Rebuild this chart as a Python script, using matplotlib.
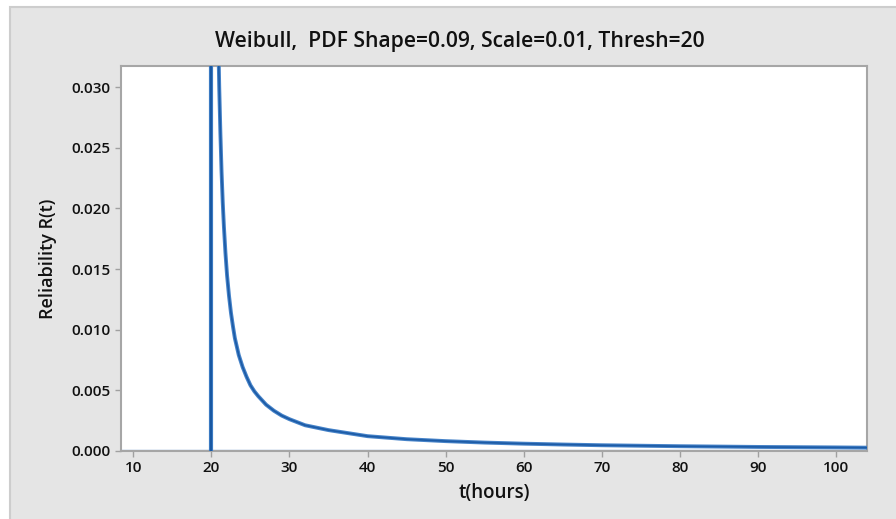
import matplotlib
matplotlib.use('Agg')
from matplotlib import pyplot as plt
from matplotlib.patches import Rectangle

plt.rcParams['font.family'] = ['Open Sans', 'DejaVu Sans']

# data
thresh = 20
t_hours = [20.85, 21.0, 21.15, 21.3, 21.45, 21.6, 21.8, 22.0, 22.25, 22.5,
           22.75, 23.0, 23.5, 24.0, 24.5, 25.0, 25.5, 26.0, 27.0, 28.0,
           29.0, 30.0, 32.0, 35.0, 38.0, 40.0, 45.0, 50.0, 55.0, 60.0,
           65.0, 70.0, 75.0, 80.0, 85.0, 90.0, 95.0, 100.0, 104.0]
pdf_vals = [0.0350, 0.0300, 0.0262, 0.0230, 0.0205, 0.0185, 0.0163, 0.0145, 0.0128, 0.0114,
            0.0103, 0.0093, 0.0079, 0.0069, 0.0061, 0.0054, 0.0049, 0.0045, 0.0038, 0.0033,
            0.0029, 0.0026, 0.0021, 0.0017, 0.0014, 0.0012, 0.00095, 0.00079, 0.00067, 0.00058,
            0.00051, 0.00045, 0.00041, 0.00037, 0.00034, 0.00031, 0.00029, 0.00027, 0.00025]
x_ticks = [10, 20, 30, 40, 50, 60, 70, 80, 90, 100]
y_ticks = [0.000, 0.005, 0.010, 0.015, 0.020, 0.025, 0.030]
y_ticklabels = ['0.000', '0.005', '0.010', '0.015', '0.020', '0.025', '0.030']

fig = plt.figure(figsize=(8.96, 5.19), dpi=100, facecolor='white')

# grey minitab frame (behind the axes)
frame = Rectangle((10 / 896, -0.01), 1.0, 1 - 7 / 519 + 0.01,
                  transform=fig.transFigure, facecolor='#e5e5e5',
                  edgecolor='#cdcdcd', linewidth=1.5, zorder=-10)
fig.patches.append(frame)

ax = fig.add_axes([121 / 896, 1 - 450.7 / 519, (867.3 - 121) / 896, (450.7 - 66) / 519])
ax.set_zorder(1)
ax.set_facecolor('white')

# zero line and threshold line
ax.axhline(0, color='#9dbde2', linewidth=2.5, zorder=2)
ax.axvline(thresh, color='#3b7ac2', linewidth=3.0, zorder=3)
ax.axvline(thresh, color='#13529c', linewidth=1.2, zorder=3)

# pdf curve
ax.plot(t_hours, pdf_vals, color='#4582c8', linewidth=2.8, zorder=4)
ax.plot(t_hours, pdf_vals, color='#1c5ba6', linewidth=1.2, zorder=5)

ax.set_xlim(8.42, 104.0)
ax.set_ylim(0, 0.03176)
ax.set_xticks(x_ticks)
ax.set_yticks(y_ticks)
ax.set_yticklabels(y_ticklabels)

for s in ax.spines.values():
    s.set_color('#a6a6a6')
    s.set_linewidth(1.5)
ax.tick_params(axis='both', colors='#a0a0a0', length=4, width=1, labelcolor='#111111',
               labelsize=11)
for lab in ax.get_xticklabels() + ax.get_yticklabels():
    lab.set_fontweight('semibold')

fig.text(460 / 896, 1 - 41 / 519, 'Weibull,  PDF Shape=0.09, Scale=0.01, Thresh=20',
         ha='center', va='center', fontsize=15.2, fontweight='semibold', color='#111111')
fig.text(494 / 896, 1 - 493 / 519, 't(hours)', ha='center', va='center',
         fontsize=13.5, fontweight='semibold', color='#111111')
fig.text(48 / 896, 1 - 259 / 519, 'Reliability R(t)', ha='center', va='center',
         rotation=90, fontsize=13, fontweight='semibold', color='#111111')

plt.savefig('out.png', dpi=100, facecolor='white')
